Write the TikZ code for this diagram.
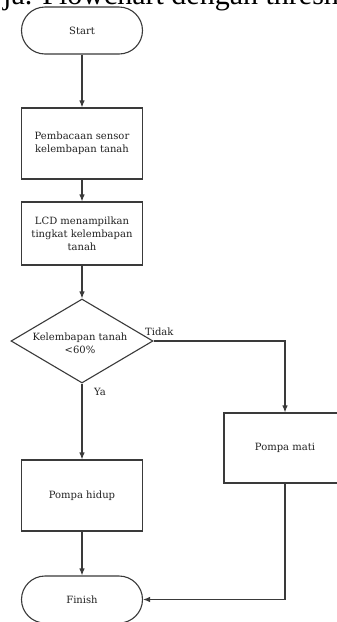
\documentclass[tikz,border=0pt]{standalone}
\usepackage{fontspec}
\setmainfont{DejaVu Serif}
\newfontfamily\capfont{Liberation Serif}
\usetikzlibrary{shapes.geometric,shapes.misc,arrows.meta}
\definecolor{linec}{HTML}{3A3A3A}
\definecolor{textc}{HTML}{222222}
\tikzset{
  base/.style={draw=linec, line width=1.1pt, text=textc, align=center, inner sep=0pt,
    font=\fontsize{10}{13}\selectfont},
  procbox/.style={base, rectangle, minimum width=121pt},
  term/.style={base, rounded rectangle, minimum width=121pt, minimum height=47pt},
  decis/.style={draw=linec, line width=1.1pt, diamond, minimum width=142pt, minimum height=84pt, inner sep=0pt},
  lbl/.style={text=textc, inner sep=0pt, font=\fontsize{10}{13}\selectfont, align=center},
  arr/.style={draw=linec, line width=1.1pt, -{Latex[length=7pt,width=5.5pt]}}
}
\begin{document}
\begin{tikzpicture}[x=1pt,y=-1pt]
\useasboundingbox (0,0) rectangle (337,622);
\fill[white] (0,0) rectangle (337,622);
\begin{scope}
\clip (0,0) rectangle (337,622);
\node[anchor=base west, inner sep=0pt, text=black, font=\capfont\fontsize{30}{36}\selectfont] (cap) at (3,4) {ja. Flowchart dengan threshold};
\node[procbox, minimum width=122pt, minimum height=70pt] (pm) at (285,448) {Pompa mati};
\node[term] (fin) at (82,599.5) {Finish};
\end{scope}
\node[term] (start) at (82,30.5) {Start};
\node[procbox, minimum height=71pt] (b1) at (82,143.5) {Pembacaan sensor\\kelembapan tanah};
\node[procbox, minimum height=63pt] (b2) at (82,233.5) {LCD menampilkan\\tingkat kelembapan\\tanah};
\node[decis] (dec) at (82,341) {};
\node[lbl] (dect) at (80,343) {Kelembapan tanah\\<60\%};
\node[procbox, minimum height=71pt] (ph) at (82,495.5) {Pompa hidup};
\node[lbl, anchor=west] (tidak) at (145,332) {Tidak};
\node[lbl] (ya) at (100,392) {Ya};
\draw[arr] (start.south) -- (b1.north);
\draw[arr] (b1.south) -- (b2.north);
\draw[arr] (b2.south) -- (dec.north);
\draw[arr] (dec.east) -| (pm.north);
\draw[arr] (dec.south) -- (ph.north);
\draw[arr] (ph.south) -- (fin.north);
\draw[arr] (pm.south) |- (fin.east);
\end{tikzpicture}
\end{document}
